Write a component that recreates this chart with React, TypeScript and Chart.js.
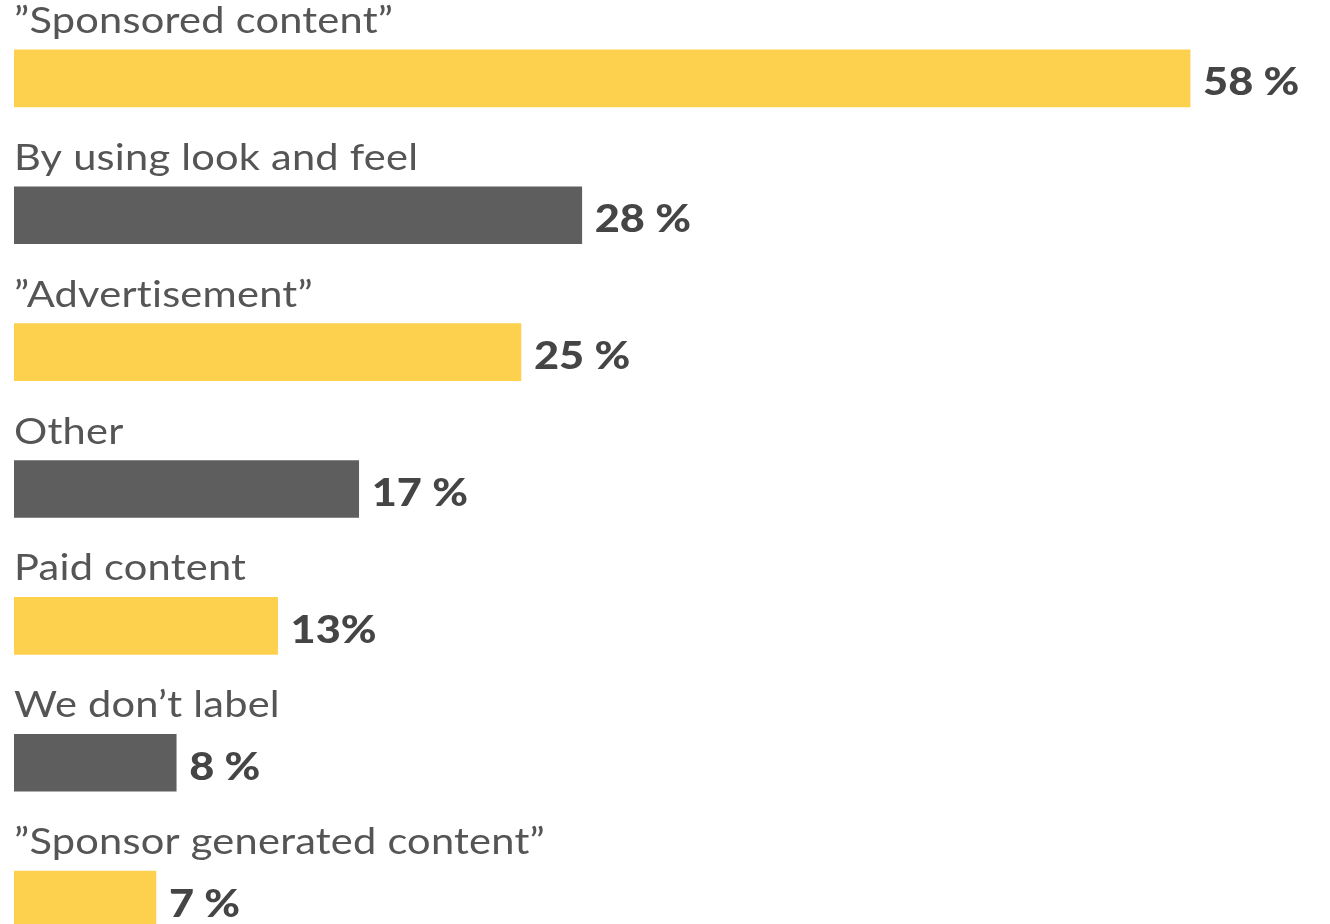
import React, { useEffect, useRef } from "react";
import { Chart, registerables } from "chart.js";

Chart.register(...registerables);

const categories = [
  "\u201DSponsored content\u201D",
  "By using look and feel",
  "\u201DAdvertisement\u201D",
  "Other",
  "Paid content",
  "We don\u2019t label",
  "\u201DSponsor generated content\u201D",
];
const values = [58, 28, 25, 17, 13, 8, 7];
const valueLabels = ["58 %", "28 %", "25 %", "17 %", "13%", "8 %", "7 %"];
const barColors = ["#FDD14E", "#5E5E5E", "#FDD14E", "#5E5E5E", "#FDD14E", "#5E5E5E", "#FDD14E"];

const labelPlugin = {
  id: "barLabels",
  afterDatasetsDraw(chart: any) {
    const ctx = chart.ctx;
    const meta = chart.getDatasetMeta(0);
    meta.data.forEach((bar: any, i: number) => {
      const top = bar.y - bar.height / 2;
      ctx.save();
      ctx.textAlign = "left";
      ctx.textBaseline = "alphabetic";
      ctx.fillStyle = "#555555";
      ctx.font = "400 36px Lato";
      (ctx as any).letterSpacing = "0.2px";
      ctx.translate(bar.base, top - 17);
      ctx.scale(1.155, 1);
      ctx.fillText(categories[i], 0, 0);
      ctx.restore();

      ctx.save();
      ctx.textAlign = "left";
      ctx.textBaseline = "alphabetic";
      ctx.fillStyle = "#454545";
      ctx.font = "900 37px Lato";
      ctx.translate(bar.x + 13, bar.y + 17);
      ctx.scale(1.17, 1);
      ctx.fillText(valueLabels[i], 0, 0);
      ctx.restore();
    });
  },
};

export default function App() {
  const ref = useRef<HTMLCanvasElement>(null);
  useEffect(() => {
    document.body.style.margin = "0";
    const chart = new Chart(ref.current!, {
      type: "bar",
      data: {
        labels: categories,
        datasets: [
          {
            data: values,
            backgroundColor: barColors,
            borderWidth: 0,
            barThickness: 57,
          },
        ],
      },
      options: {
        indexAxis: "y",
        animation: false,
        responsive: false,
        layout: { padding: { left: 14, right: 0, top: 10, bottom: 0 } },
        plugins: { legend: { display: false }, tooltip: { enabled: false } },
        scales: {
          x: { display: false, min: 0, max: 64.9 },
          y: { display: false, offset: true },
        },
      },
      plugins: [labelPlugin],
    });
    return () => chart.destroy();
  }, []);
  return (
    <div style={{ width: 1330, height: 924, overflow: "hidden", background: "#fff" }}>
      <canvas ref={ref} width={1330} height={968} />
    </div>
  );
}
